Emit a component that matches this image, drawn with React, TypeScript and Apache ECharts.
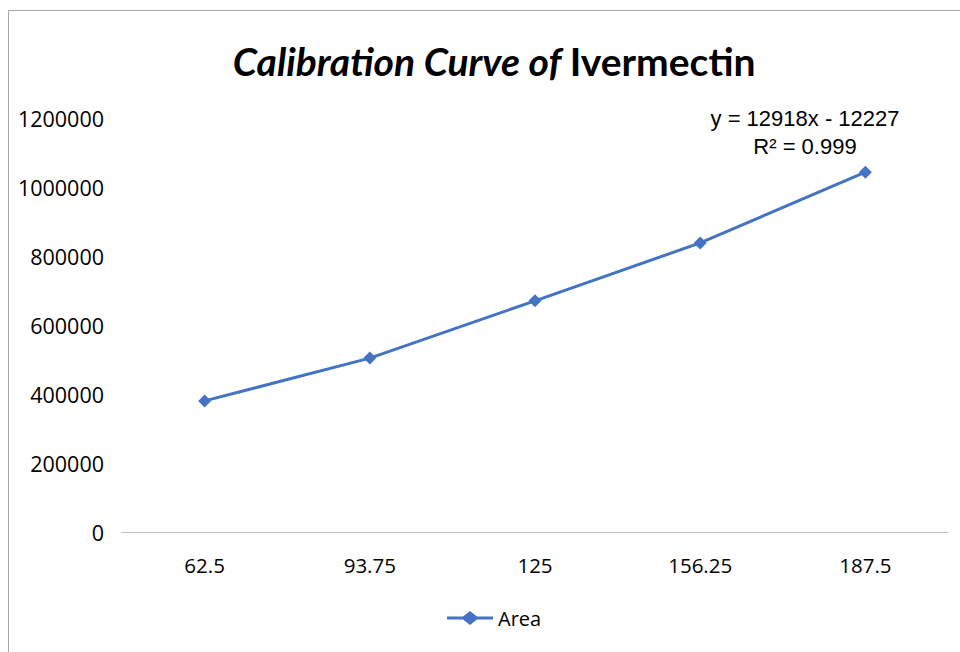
import React, { useEffect, useRef } from "react";
import * as echarts from "echarts";

const categories = ["62.5", "93.75", "125", "156.25", "187.5"];
const areaValues = [380000, 504000, 670000, 838000, 1043000];
const yTicks = { min: 0, max: 1200000, interval: 200000 };
const equationLines = ["y = 12918x - 12227", "R² = 0.999"];

export default function App() {
  const ref = useRef<HTMLDivElement>(null);
  useEffect(() => {
    if (!ref.current) return;
    const chart = echarts.init(ref.current, undefined, { renderer: "svg" });
    const font = "'Open Sans', 'Noto Sans', sans-serif";
    chart.setOption({
      animation: false,
      backgroundColor: "#ffffff",
      title: {
        text: "{a|Calibration Curve of }{b|Ivermectin}",
        left: 489,
        textAlign: "center",
        top: 36,
        textStyle: {
          rich: {
            a: { fontFamily: "Lato, sans-serif", fontWeight: "bold", fontStyle: "italic", fontSize: 39, color: "#000" },
            b: { fontFamily: "Lato, sans-serif", fontWeight: "bold", fontSize: 39, color: "#000" },
          },
        },
      },
      graphic: [
        {
          type: "rect",
          shape: { x: 8.5, y: 10.5, width: 960, height: 660 },
          style: { fill: "none", stroke: "#a6a6a6", lineWidth: 1 },
          silent: true,
        },
        {
          type: "text",
          x: 805,
          y: 118,
          style: {
            text: equationLines[0],
            font: "22px 'Liberation Sans', Arial, sans-serif",
            fill: "#000",
            align: "center",
            verticalAlign: "middle",
          },
        },
        {
          type: "text",
          x: 805,
          y: 146,
          style: {
            text: equationLines[1],
            font: "22px 'Liberation Sans', Arial, sans-serif",
            fill: "#000",
            align: "center",
            verticalAlign: "middle",
          },
        },
      ],
      legend: {
        top: 608,
        left: 447,
        padding: 0,
        itemWidth: 46,
        itemHeight: 14,
        textStyle: { fontFamily: font, fontSize: 20, color: "#000" },
        data: [
          {
            name: "Area",
            icon: "path://M0,5.5 L16,5.5 L23,0 L30,5.5 L46,5.5 L46,8.5 L30,8.5 L23,14 L16,8.5 L0,8.5 Z",
            itemStyle: { color: "#4472C4" },
          },
        ],
      },
      grid: { left: 122, right: 12, top: 118, bottom: 120, containLabel: false },
      xAxis: {
        type: "category",
        data: categories,
        boundaryGap: true,
        axisLine: { lineStyle: { color: "#bfbfbf", width: 1 } },
        axisTick: { show: false },
        axisLabel: { fontFamily: font, fontSize: 20.5, color: "#000", margin: 22 },
      },
      yAxis: {
        type: "value",
        min: yTicks.min,
        max: yTicks.max,
        interval: yTicks.interval,
        splitLine: { show: false },
        axisLine: { show: false },
        axisTick: { show: false },
        axisLabel: {
          fontFamily: font,
          fontSize: 21.5,
          color: "#000",
          margin: 18,
          formatter: (v: number) => String(v),
        },
      },
      series: [
        {
          name: "Area",
          type: "line",
          data: areaValues,
          symbol: "diamond",
          symbolSize: 13,
          lineStyle: { color: "#4472C4", width: 3 },
          itemStyle: { color: "#4472C4" },
        },
      ],
    });
    return () => chart.dispose();
  }, []);
  return <div ref={ref} style={{ width: 960, height: 652, position: "absolute", left: 0, top: 0 }} />;
}
